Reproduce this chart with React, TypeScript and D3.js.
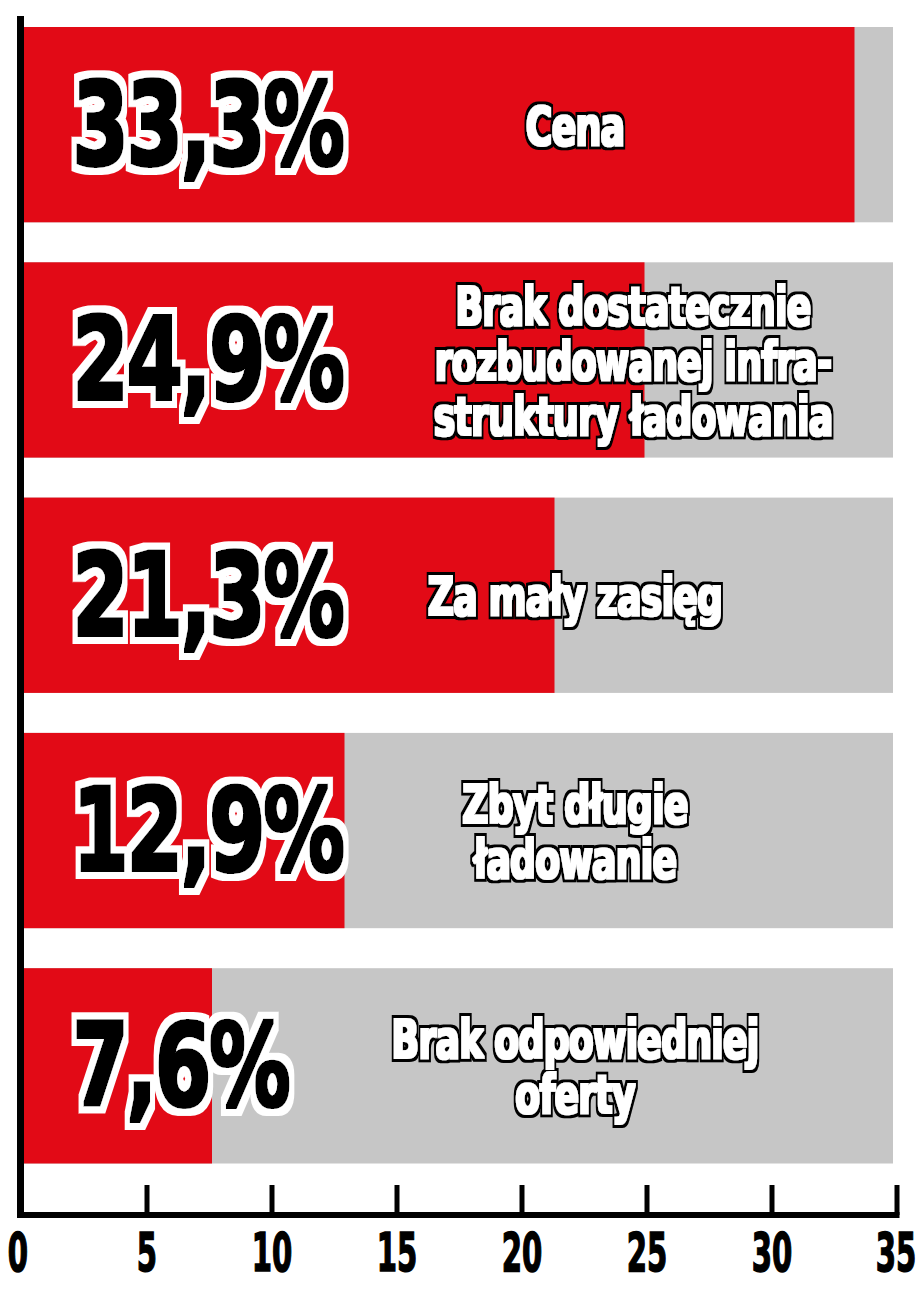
import * as d3 from "d3";

// dane
const categories = [
  "Cena",
  "Brak dostatecznie rozbudowanej infrastruktury ładowania",
  "Za mały zasięg",
  "Zbyt długie ładowanie",
  "Brak odpowiedniej oferty",
];
const labelLines = [
  ["Cena"],
  ["Brak dostatecznie", "rozbudowanej infra-", "struktury ładowania"],
  ["Za mały zasięg"],
  ["Zbyt długie", "ładowanie"],
  ["Brak odpowiedniej", "oferty"],
];
const values = [33.3, 24.9, 21.3, 12.9, 7.6];
const valueLabels = ["33,3%", "24,9%", "21,3%", "12,9%", "7,6%"];
const tickValues = [0, 5, 10, 15, 20, 25, 30, 35];

const width = 924;
const height = 1306;
const RED = "#e20a16";
const GREY = "#c6c6c6";
// środek napisów kategorii
const labelCenter = [575, 633, 575, 575, 575];

const App = () => {
  const x = d3.scaleLinear().domain([0, 35]).range([22, 897]);
  const y = d3.scaleBand<string>()
    .domain(categories)
    .range([27, 1163.5])
    .paddingInner(0.17)
    .paddingOuter(0);
  const bw = y.bandwidth();
  const axisY = 1215;

  return (
    <svg width={width} height={height} style={{position: "absolute", left: 0, top: 0}}>
      <defs>
        {/* czarne cyfry pogrubione + biała obwódka */}
        <filter id="pctOutline" x="-10%" y="-30%" width="120%" height="160%">
          <feMorphology in="SourceGraphic" operator="dilate" radius="2" result="thick"/>
          <feMorphology in="SourceAlpha" operator="dilate" radius="9" result="outer"/>
          <feFlood floodColor="#fff" result="white"/>
          <feComposite in="white" in2="outer" operator="in" result="halo"/>
          <feMerge>
            <feMergeNode in="halo"/>
            <feMergeNode in="thick"/>
          </feMerge>
        </filter>
        {/* biały napis pogrubiony + czarna obwódka */}
        <filter id="catOutline" x="-10%" y="-40%" width="120%" height="180%">
          <feMorphology in="SourceGraphic" operator="dilate" radius="0.7" result="thick"/>
          <feMorphology in="SourceAlpha" operator="dilate" radius="4" result="outer"/>
          <feFlood floodColor="#000" result="black"/>
          <feComposite in="black" in2="outer" operator="in" result="halo"/>
          <feMerge>
            <feMergeNode in="halo"/>
            <feMergeNode in="thick"/>
          </feMerge>
        </filter>
      </defs>
      <rect width={width} height={height} fill="#fff"/>
      {categories.map((c, i) => {
        const top = y(c)!;
        const cy = top + bw / 2;
        const lines = labelLines[i];
        return (
          <g key={c}>
            <rect x={x(0) + 2} y={top} width={x(35) - 4 - (x(0) + 2)} height={bw} fill={GREY}/>
            <rect x={x(0) + 2} y={top} width={x(values[i]) - (x(0) + 2)} height={bw} fill={RED}/>
            {/* wartość procentowa */}
            <text
              transform={`translate(72,${top + 137}) scale(0.72,1)`}
              fontFamily="'DejaVu Sans', sans-serif"
              fontWeight="bold"
              fontSize={114}
              letterSpacing={-4}
              fill="#000"
              filter="url(#pctOutline)"
            >{valueLabels[i]}</text>
            {/* nazwa kategorii */}
            <text
              textAnchor="middle"
              fontFamily="'DejaVu Sans Condensed', 'DejaVu Sans', sans-serif"
              fontStretch="condensed"
              fontWeight="bold"
              fontSize={53}
              letterSpacing={-1}
              fill="#fff"
              filter="url(#catOutline)"
              transform={`translate(${labelCenter[i]},${cy + 20 - (lines.length - 1) / 2 * 55}) scale(0.76,1)`}
            >
              {lines.map((line, j) => (
                <tspan key={j} x={0} dy={j === 0 ? 0 : 55}>{line}</tspan>
              ))}
            </text>
          </g>
        );
      })}
      {/* osie */}
      <line x1={20.5} x2={20.5} y1={16} y2={axisY + 3} stroke="#000" strokeWidth={7}/>
      <line x1={17} x2={x(35) + 2.5} y1={axisY} y2={axisY} stroke="#000" strokeWidth={6}/>
      {tickValues.filter(t => t > 0).map(t => (
        <line key={t} x1={x(t)} x2={x(t)} y1={1185} y2={axisY} stroke="#000" strokeWidth={5}/>
      ))}
      {tickValues.map(t => (
        <text
          key={t}
          transform={`translate(${t === 0 ? x(t) - 4 : t === 35 ? x(t) - 1 : x(t)},1271) scale(0.6,1)`}
          textAnchor="middle"
          fontFamily="'DejaVu Sans Condensed', 'DejaVu Sans', sans-serif"
          fontStretch="condensed"
          fontWeight="bold"
          fontSize={54}
          fill="#000"
          stroke="#000"
          strokeWidth={1.5}
        >{t}</text>
      ))}
    </svg>
  );
};

export default App;
